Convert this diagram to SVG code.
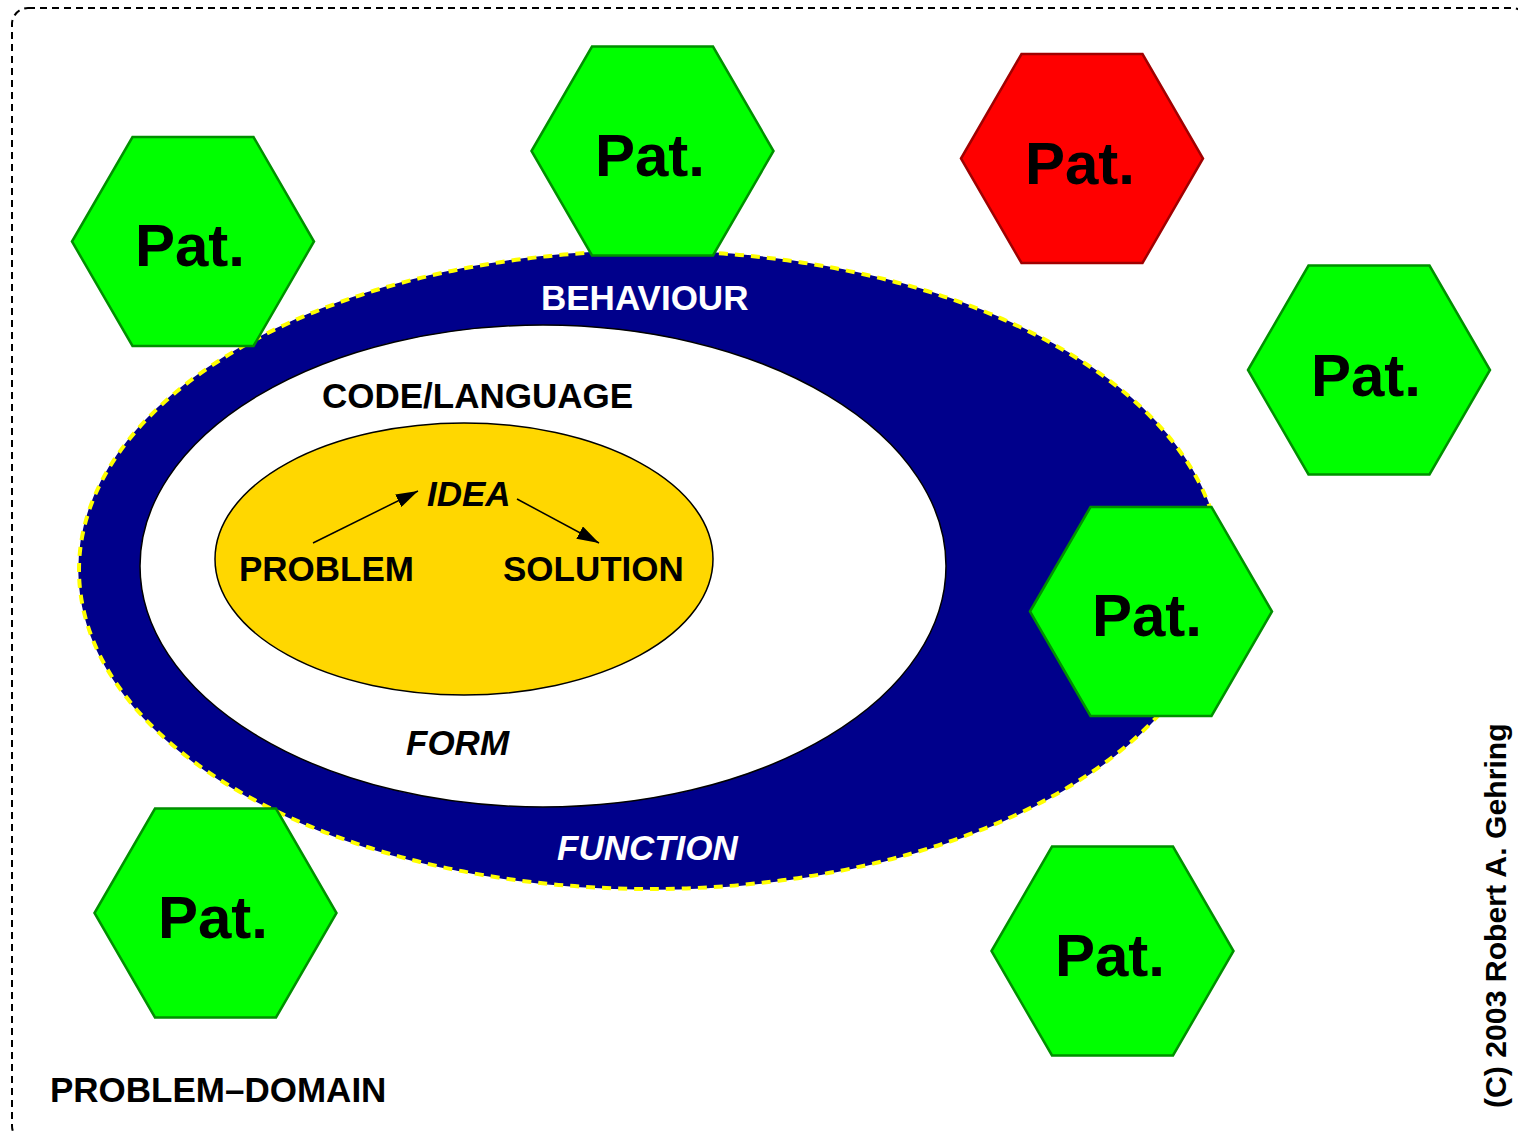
<svg xmlns="http://www.w3.org/2000/svg" width="1518" height="1134" viewBox="0 0 1518 1134">
<style>
text{font-family:"Liberation Sans",Arial,Helvetica,sans-serif;font-weight:bold}
.hexg{fill:#00ff00;stroke:#009000;stroke-width:2.5}
.hexr{fill:#ff0000;stroke:#a00000;stroke-width:2.5}
.pat{font-size:60px;fill:#000;text-anchor:middle}
.lbl{font-size:35px;fill:#000}
.wht{fill:#fff}
.it{font-style:italic}
.conn{stroke:#000;stroke-width:1.5;fill:none;marker-end:url(#ah)}
</style>
<defs>
<marker id="ah" markerUnits="userSpaceOnUse" markerWidth="22" markerHeight="14" refX="22" refY="7" orient="auto">
<path d="M0,0 L22,7 L0,14 Z" fill="#000"/>
</marker>
<polygon id="hex" points="-121,0 -60.5,-104.5 60.5,-104.5 121,0 60.5,104.5 -60.5,104.5"/>
</defs>
<rect width="1518" height="1134" fill="#fff"/>
<g id="problem-domain">
<rect x="12" y="8" width="1516" height="1134" rx="16" ry="16" fill="none" stroke="#000" stroke-width="2" stroke-dasharray="7,5"/>
<text class="lbl" x="50" y="1102">PROBLEM–DOMAIN</text>
</g>
<g id="behaviour-function">
<ellipse cx="650" cy="570" rx="571" ry="319" fill="#00008b" stroke="#00008b" stroke-width="1.5"/>
<ellipse cx="650" cy="570" rx="571" ry="319" fill="none" stroke="#ffff00" stroke-width="4" stroke-dasharray="9,7"/>
<text class="lbl wht" x="541" y="310">BEHAVIOUR</text>
<text class="lbl wht it" x="557" y="860">FUNCTION</text>
</g>
<g id="code-form">
<ellipse cx="543" cy="566" rx="403" ry="241" fill="#fff" stroke="#000" stroke-width="1.5"/>
<text class="lbl" x="322" y="408">CODE/LANGUAGE</text>
<text class="lbl it" x="406" y="755">FORM</text>
</g>
<g id="idea-core">
<ellipse cx="464" cy="559" rx="249" ry="136" fill="#ffd700" stroke="#000" stroke-width="1.5"/>
</g>
<g id="problem"><text class="lbl" x="239" y="581">PROBLEM</text></g>
<g id="idea"><text class="lbl it" x="427" y="506">IDEA</text></g>
<g id="solution"><text class="lbl" x="503" y="581">SOLUTION</text></g>
<g id="connectors">
<line class="conn" x1="313" y1="543" x2="418" y2="491"/>
<line class="conn" x1="517" y1="499" x2="599" y2="543"/>
</g>
<g id="pat1"><use href="#hex" class="hexg" x="193" y="241.5"/><text class="pat" x="190" y="266">Pat.</text></g>
<g id="pat2"><use href="#hex" class="hexg" x="652.5" y="151"/><text class="pat" x="650" y="176">Pat.</text></g>
<g id="pat3"><use href="#hex" class="hexr" x="1082" y="158.5"/><text class="pat" x="1080" y="184">Pat.</text></g>
<g id="pat4"><use href="#hex" class="hexg" x="1369" y="370"/><text class="pat" x="1366" y="396">Pat.</text></g>
<g id="pat5"><use href="#hex" class="hexg" x="1151" y="611.5"/><text class="pat" x="1147" y="636">Pat.</text></g>
<g id="pat6"><use href="#hex" class="hexg" x="215.5" y="913"/><text class="pat" x="213" y="938">Pat.</text></g>
<g id="pat7"><use href="#hex" class="hexg" x="1112.5" y="951"/><text class="pat" x="1110" y="976">Pat.</text></g>
<g id="copyright"><text transform="translate(1506,1108) rotate(-90)" style="font-size:30.2px">(C) 2003 Robert A. Gehring</text></g>
</svg>
